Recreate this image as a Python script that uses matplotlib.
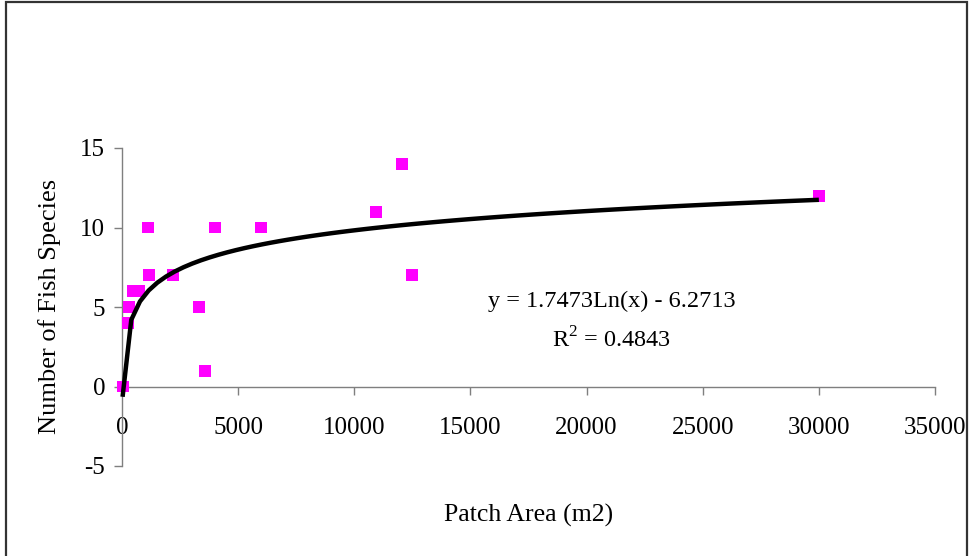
import numpy as np
import matplotlib
matplotlib.use("Agg")
import matplotlib.pyplot as plt
from matplotlib.patches import Rectangle

# Patch area (m2) and number of fish species observed in each patch
patch_area = [25, 270, 300, 490, 730, 1120, 1170, 2190, 3310, 3590,
              4020, 5990, 10920, 12040, 12480, 30000]
fish_species = [0, 4, 5, 6, 6, 10, 7, 7, 5, 1,
                10, 10, 11, 14, 7, 12]

# Logarithmic trendline coefficients
trend_a = 1.7473
trend_b = -6.2713
r_squared = 0.4843

x_ticks = [0, 5000, 10000, 15000, 20000, 25000, 30000, 35000]
y_ticks = [-5, 0, 5, 10, 15]

plt.rcParams["font.family"] = ["Liberation Serif", "DejaVu Serif"]
plt.rcParams["mathtext.fontset"] = "custom"
plt.rcParams["mathtext.rm"] = "Liberation Serif"

fig = plt.figure(figsize=(9.71, 5.56), dpi=100)
ax = fig.add_axes([122 / 971, 1 - 466 / 556, (935 - 122) / 971, (466 - 148) / 556])

ax.scatter(patch_area, fish_species, marker="s", s=8.6 ** 2,
           color="#FF00FF", edgecolors="none", zorder=3, clip_on=False)

xs = np.linspace(min(patch_area), max(patch_area), 81)
ax.plot(xs, trend_a * np.log(xs) + trend_b, color="black", lw=3.2,
        solid_capstyle="butt", zorder=4, clip_on=False)

ax.set_xlim(0, 35000)
ax.set_ylim(-5, 15)
ax.set_xticks(x_ticks)
ax.set_yticks(y_ticks)
ax.set_xticklabels([str(v) for v in x_ticks])
ax.set_yticklabels([str(v) for v in y_ticks])

axis_gray = "#7F7F7F"
for side in ("top", "right"):
    ax.spines[side].set_visible(False)
ax.spines["left"].set_color(axis_gray)
ax.spines["bottom"].set_color(axis_gray)
ax.spines["bottom"].set_position(("data", 0))
ax.spines["left"].set_linewidth(1.0)
ax.spines["bottom"].set_linewidth(1.0)

ax.tick_params(axis="x", direction="out", length=6, width=1.0, color=axis_gray,
               pad=16, labelsize=18)
ax.tick_params(axis="y", direction="out", length=6, width=1.0, color=axis_gray,
               pad=6, labelsize=18)

ax.set_xlabel("Patch Area (m2)", fontsize=18.5)
ax.set_ylabel("Number of Fish Species", fontsize=19)
ax.xaxis.set_label_coords((529 - 122) / (935 - 122), (466 - 504) / (466 - 148))
ax.yaxis.set_label_coords((61 - 122) / (935 - 122), (466 - 306) / (466 - 148))

fig.text(612 / 971, 1 - 301 / 556, f"y = {trend_a:.4f}Ln(x) - {-trend_b:.4f}",
         ha="center", va="center", fontsize=17.5)
fig.text(612 / 971, 1 - 340 / 556, f"R$^{{2}}$ = {r_squared:.4f}",
         ha="center", va="center", fontsize=17.5)

# Chart frame
fig.patches.append(Rectangle((6 / 971, -0.02), (967 - 6) / 971, 1.02 - 2 / 556,
                             transform=fig.transFigure, fill=False,
                             edgecolor="#333333", lw=1.6))

fig.savefig("out.png", dpi=100)
